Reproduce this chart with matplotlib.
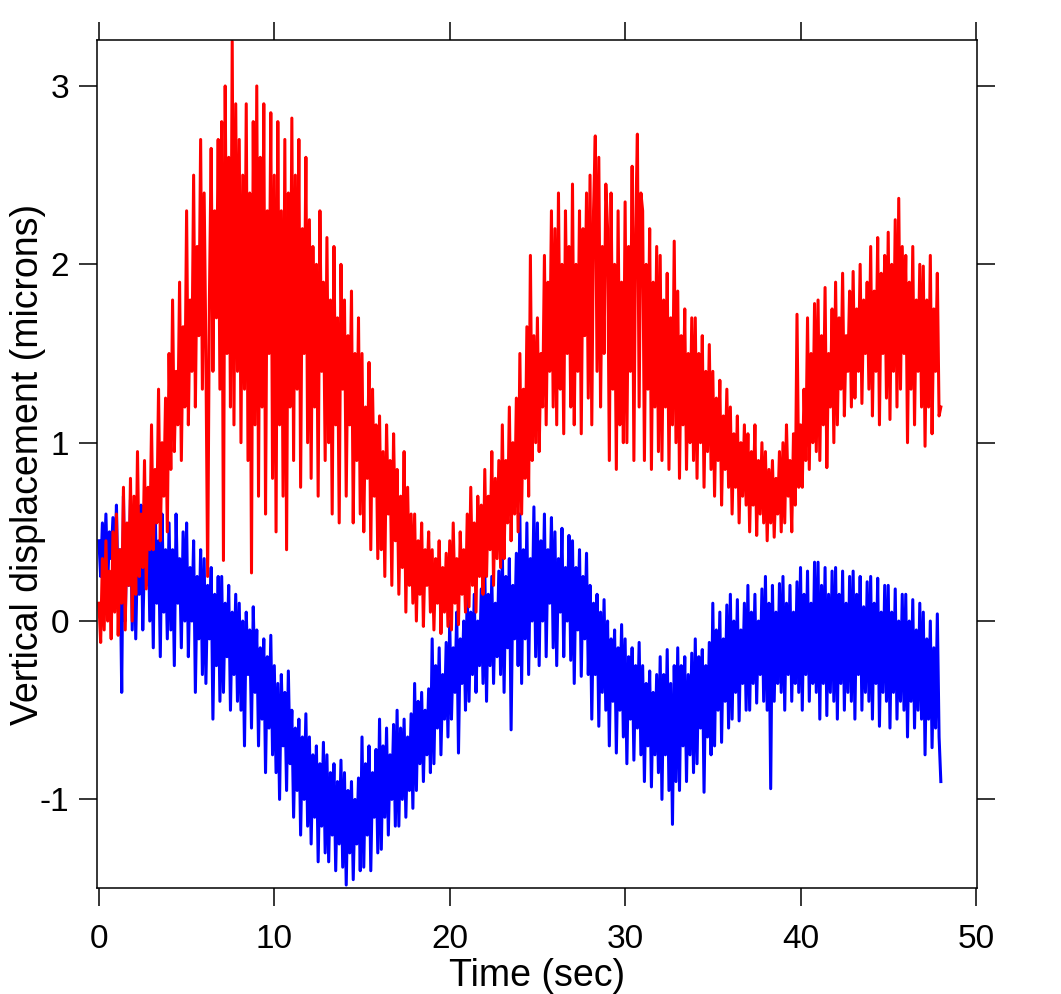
import numpy as np
import matplotlib
matplotlib.use('Agg')
import matplotlib.pyplot as plt

plt.rcParams['font.family'] = ['Liberation Sans', 'DejaVu Sans']

# sample spacing of the recording (seconds)
DT = 0.1

# red trace, hundredths of a micron, 10 samples per second
red_0_12 = [
    10, -12, 35, -5, 45, 0, 28, -10, 50, 5,
    60, -8, 40, 10, 75, -5, 55, 20, 80, 0,
    70, 15, 95, 25, 60, 30, 90, 18, 75, 40,
    110, 40, 85, 55, 130, 45, 100, 70, 125, 50,
    150, 85, 180, 95, 140, 110, 190, 90, 165, 120,
    230, 110, 180, 140, 250, 120, 210, 160, 270, 130,
    240, 150, 25, 180, 265, 140, 230, 170, 270, 130,
    280, 34, 300, 150, 260, 120, 325, 110, 290, 140,
    270, 100, 250, 130, 290, 90, 240, 27, 280, 110,
    300, 70, 260, 120, 290, 60, 230, 150, 285, 80,
    250, 50, 280, 110, 230, 70, 270, 40, 240, 120,
    282, 90, 250, 130, 270, 75, 220, 150, 260, 100,
]
red_12_24 = [
    225, 80, 210, 120, 200, 70, 230, 140, 190, 90,
    215, 100, 180, 60, 210, 110, 170, 55, 200, 130,
    180, 70, 160, 110, 185, 55, 150, 90, 170, 60,
    150, 50, 120, 80, 145, 40, 130, 70, 110, 35,
    115, 40, 95, 25, 110, 60, 90, 20, 105, 45,
    85, 15, 70, 30, 95, 5, 75, 20, 60, 10,
    60, 0, 45, 15, 55, -3, 40, 20, 50, 5,
    40, -5, 35, 10, 45, -7, 30, 5, 38, -3,
    45, -5, 55, 10, 35, -2, 50, 15, 40, 5,
    60, 8, 75, 20, 55, 5, 70, 25, 65, 15,
    85, 25, 70, 40, 95, 20, 80, 35, 90, 30,
    110, 35, 90, 55, 120, 45, 100, 60, 125, 50,
]
red_24_36 = [
    150, 60, 130, 80, 165, 70, 205, 90, 160, 100,
    170, 95, 150, 120, 205, 110, 190, 140, 230, 120,
    220, 110, 240, 130, 200, 105, 230, 150, 210, 120,
    245, 110, 200, 140, 230, 105, 220, 160, 240, 125,
    250, 110, 230, 272, 140, 260, 120, 210, 150, 245,
    220, 90, 240, 130, 200, 85, 230, 110, 190, 100,
    235, 100, 210, 140, 255, 90, 220, 273, 120, 240,
    230, 90, 200, 130, 220, 85, 190, 120, 210, 95,
    205, 90, 180, 120, 195, 85, 170, 110, 213, 100,
    185, 80, 160, 110, 175, 85, 150, 100, 170, 90,
    170, 80, 150, 100, 160, 75, 140, 95, 155, 85,
    140, 70, 125, 90, 135, 65, 115, 85, 130, 75,
]
red_36_48 = [
    120, 60, 105, 75, 115, 55, 100, 70, 110, 65,
    105, 50, 95, 65, 110, 48, 90, 60, 100, 55,
    95, 45, 85, 55, 90, 47, 80, 60, 95, 50,
    100, 55, 110, 70, 90, 50, 105, 65, 172, 75,
    110, 75, 130, 90, 170, 85, 150, 100, 178, 95,
    180, 90, 160, 110, 187, 86, 150, 120, 175, 100,
    190, 110, 170, 130, 195, 115, 160, 140, 185, 120,
    196, 125, 175, 140, 200, 122, 180, 150, 190, 130,
    210, 115, 185, 140, 215, 110, 195, 150, 205, 125,
    218, 113, 200, 140, 225, 120, 237, 130, 210, 150,
    205, 100, 190, 130, 210, 110, 180, 140, 200, 120,
    199, 98, 180, 120, 205, 105, 175, 140, 195, 115,
    120,
]

# blue trace, hundredths of a micron
blue_0_12 = [
    45, 25, 55, 30, 60, 20, 50, 35, 58, 28,
    65, 10, 40, -40, 70, 0, 50, 20, 68, -5,
    55, -10, 40, 15, 65, -5, 35, 20, 60, 0,
    50, -15, 70, 10, 45, -20, 60, 5, 40, -10,
    55, -5, 40, -25, 60, 10, 35, -15, 50, 0,
    55, -20, 30, 0, 45, -40, 25, -10, 40, -30,
    35, -35, 20, -10, 30, -55, 15, -25, 25, -45,
    25, -40, 10, -20, 20, -50, 5, -30, 15, -45,
    10, -50, 0, -70, 5, -30, -5, -60, 8, -40,
    -5, -70, -15, -55, -10, -85, -20, -60, -8, -75,
    -25, -85, -35, -100, -30, -70, -40, -95, -28, -80,
    -50, -110, -60, -95, -55, -120, -65, -100, -52, -115,
]
blue_12_24 = [
    -65, -125, -75, -110, -70, -135, -80, -115, -68, -130,
    -75, -135, -85, -120, -80, -140, -90, -125, -78, -138,
    -85, -148, -95, -130, -90, -145, -100, -125, -88, -140,
    -65, -138, -80, -120, -70, -140, -85, -110, -72, -130,
    -55, -128, -70, -110, -60, -120, -75, -100, -58, -115,
    -50, -115, -60, -100, -55, -110, -65, -95, -52, -105,
    -35, -95, -45, -80, -40, -90, -50, -75, -38, -85,
    -10, -80, -25, -60, -15, -75, -30, -55, -12, -65,
    0, -55, -15, -40, 5, -74, -10, -35, 0, -50,
    20, -45, 5, -30, 15, -40, 0, -25, 18, -35,
    30, -45, 15, -25, 25, -35, 10, -20, 28, -30,
    40, -40, 25, -15, 35, -61, 20, -10, 38, -25,
]
blue_24_36 = [
    60, -35, 40, -10, 55, -30, 35, 0, 64, -20,
    55, -25, 45, 0, 60, -20, 40, 10, 58, -15,
    50, -25, 35, 5, 52, -20, 30, 0, 48, -22,
    45, -35, 30, -5, 40, -31, 25, -10, 38, -30,
    20, -55, 10, -30, 15, -59, 5, -40, 12, -50,
    0, -70, -10, -45, -5, -74, -15, -50, -2, -65,
    -10, -80, -20, -55, -15, -78, -25, -60, -12, -75,
    -25, -90, -35, -70, -28, -93, -40, -75, -30, -85,
    -20, -100, -30, -75, -16, -95, -35, -114, -25, -90,
    -15, -95, -25, -70, -20, -90, -30, -75, -18, -85,
    -10, -80, -20, -60, -16, -96, -25, -65, -12, -75,
    10, -70, -5, -50, 5, -68, -10, -45, 9, -60,
]
blue_36_48 = [
    15, -55, 0, -40, 12, -56, -5, -35, 10, -50,
    20, -50, 5, -35, 15, -46, 0, -30, 18, -45,
    25, -50, 10, -94, 20, -45, 5, -35, 21, -40,
    25, -50, 10, -30, 20, -45, 5, -35, 22, -40,
    30, -50, 15, -30, 28, -45, 10, -35, 33, -40,
    33, -55, 20, -35, 30, -53, 15, -40, 28, -45,
    30, -55, 15, -35, 28, -50, 10, -40, 25, -45,
    28, -55, 15, -30, 25, -50, 8, -40, 22, -45,
    25, -55, 10, -35, 24, -59, 5, -40, 20, -45,
    20, -60, 5, -40, 18, -55, 0, -45, 15, -50,
    15, -65, 0, -45, 12, -60, -5, -50, 10, -55,
    5, -75, -10, -55, 0, -71, -15, -60, 4, -65,
    -90,
]

x_ticks = [0, 10, 20, 30, 40, 50]
y_ticks = [-1, 0, 1, 2, 3]

red = np.array(red_0_12 + red_12_24 + red_24_36 + red_36_48) / 100.0
blue = np.array(blue_0_12 + blue_12_24 + blue_24_36 + blue_36_48) / 100.0
t_red = np.arange(len(red)) * DT
t_blue = np.arange(len(blue)) * DT

fig = plt.figure(figsize=(10.61, 9.94), dpi=100)
ax = fig.add_axes([0.0914, 0.1066, 0.8294, 0.8532])

ax.plot(t_blue, blue, color='#0000ff', lw=2.2)
ax.plot(t_red, red, color='#ff0000', lw=2.2)

ax.set_xlim(-0.11, 50.06)
ax.set_ylim(-1.497, 3.258)
ax.set_xticks(x_ticks)
ax.set_yticks(y_ticks)
ax.set_xticklabels([str(v) for v in x_ticks])
ax.set_yticklabels([str(v) for v in y_ticks])

ax.tick_params(direction='out', length=13, width=1.1, labelsize=24,
               top=True, right=True, labeltop=False, labelright=False)
ax.tick_params(axis='y', pad=7)
ax.tick_params(axis='x', pad=13)
for side in ['left', 'right', 'top', 'bottom']:
    ax.spines[side].set_linewidth(1.1)

ax.set_xlabel('Time (sec)', fontsize=27)
ax.xaxis.set_label_coords(0.5, -0.0825)
ax.set_ylabel('Vertical displacement (microns)', fontsize=27)
ax.yaxis.set_label_coords(-0.058, 0.5)

fig.savefig('out.png', dpi=100)
